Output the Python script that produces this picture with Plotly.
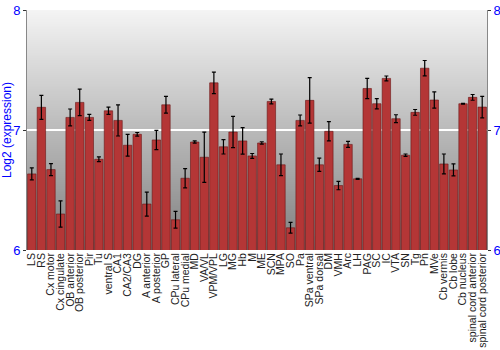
import struct, zlib, base64
import plotly.graph_objects as go

regions = ["LS", "RS", "Cx motor", "Cx cingulate", "OB anterior", "OB posterior", "Pir", "Tu",
           "ventral S", "CA1", "CA2/CA3", "DG", "A anterior", "A posterior", "GP", "CPu lateral",
           "CPu medial", "MD", "VA/VL", "VPM/VPL", "LG", "MG", "Hb", "M", "ME", "SCN", "MPA", "SO",
           "Pa", "SPa ventral", "SPa dorsal", "DM", "VMH", "Arc", "LH", "PAG", "SC", "IC", "VTA",
           "SN", "Tg", "Pn", "MVe", "Cb vermis", "Cb lobe", "Cb nucleus", "spinal cord anterior",
           "spinal cord posterior"]
expression = [6.634, 7.189, 6.67, 6.30, 7.105, 7.23, 7.105, 6.756,
              7.16, 7.08, 6.873, 6.964, 6.383, 6.917, 7.21, 6.252,
              6.598, 6.90, 6.773, 7.393, 6.86, 6.983, 6.909, 6.784, 6.892, 7.238, 6.71, 6.185,
              7.08, 7.247, 6.71, 6.989, 6.537, 6.88, 6.593, 7.346, 7.219, 7.43, 7.094,
              6.79, 7.147, 7.515, 7.25, 6.717, 6.667, 7.219, 7.272,
              7.191]
error = [0.05, 0.10, 0.05, 0.11, 0.07, 0.11, 0.025, 0.02,
         0.03, 0.13, 0.09, 0.015, 0.10, 0.08, 0.07, 0.07,
         0.08, 0.01, 0.21, 0.09, 0.06, 0.13, 0.11, 0.02, 0.01, 0.02, 0.09, 0.045,
         0.045, 0.19, 0.055, 0.08, 0.035, 0.025, 0.005, 0.085, 0.043, 0.02, 0.033,
         0.01, 0.024, 0.064, 0.068, 0.083, 0.05, 0.004, 0.024,
         0.09]
y_ticks = [6, 7, 8]


def gradient_png(top, bottom, n=256):
    rows = b""
    for i in range(n):
        t = i / (n - 1)
        c = bytes(int(round(top[k] + (bottom[k] - top[k]) * t)) for k in range(3))
        rows += b"\x00" + c
    def chunk(tag, data):
        return struct.pack(">I", len(data)) + tag + data + struct.pack(">I", zlib.crc32(tag + data) & 0xffffffff)
    png = b"\x89PNG\r\n\x1a\n"
    png += chunk(b"IHDR", struct.pack(">IIBBBBB", 1, n, 8, 2, 0, 0, 0))
    png += chunk(b"IDAT", zlib.compress(rows))
    png += chunk(b"IEND", b"")
    return "data:image/png;base64," + base64.b64encode(png).decode()


fig = go.Figure()
fig.add_trace(go.Bar(
    x=regions, y=expression,
    marker=dict(color="#b43636", line=dict(color="#6a1818", width=0.6)),
    error_y=dict(type="data", array=error, color="#000000", thickness=1.2, width=2),
    showlegend=False,
))
fig.add_trace(go.Scatter(x=[regions[0]], y=[7], yaxis="y2", mode="lines",
                         showlegend=False, hoverinfo="skip"))

fig.add_layout_image(dict(
    source=gradient_png((244, 244, 244), (128, 128, 128)),
    xref="paper", yref="paper", x=0, y=1, sizex=1, sizey=1,
    sizing="stretch", layer="below", xanchor="left", yanchor="top",
))

axis_font = dict(family="Liberation Sans, Arial, sans-serif", size=13, color="#0000ff")
fig.update_layout(
    width=500, height=350,
    margin=dict(l=27, r=13, t=10, b=100, autoexpand=False),
    paper_bgcolor="white", plot_bgcolor="rgba(0,0,0,0)",
    bargap=0.12,
    font=dict(family="Liberation Sans, Arial, sans-serif"),
    xaxis=dict(
        range=[-0.5, len(regions) - 0.5],
        tickmode="array", tickvals=regions, ticktext=regions,
        tickangle=-90, tickfont=dict(size=10.5, color="#222222"),
        showgrid=False, ticks="", showline=False, zeroline=False, automargin=False,
    ),
    yaxis=dict(
        range=[6, 8], tickvals=y_ticks, ticktext=[str(v) for v in y_ticks],
        tickfont=axis_font, showgrid=True, gridcolor="#ffffff", gridwidth=1.5,
        ticks="outside", ticklen=3, tickcolor="#333333",
        showline=True, linecolor="#888888", linewidth=1, mirror=True,
        zeroline=False, automargin=False,
        title=dict(text="Log2 (expression)", font=dict(size=12, color="#0000ff"), standoff=2),
    ),
    yaxis2=dict(
        overlaying="y", side="right", range=[6, 8], tickvals=y_ticks,
        ticktext=[str(v) for v in y_ticks], tickfont=axis_font, showgrid=False,
        ticks="outside", ticklen=3, tickcolor="#333333", zeroline=False, showline=False,
        automargin=False,
    ),
)

fig.write_html("out.html")
